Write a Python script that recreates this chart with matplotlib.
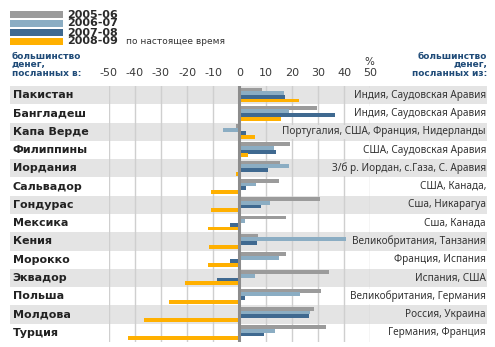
import matplotlib
matplotlib.use("Agg")
import matplotlib.pyplot as plt
from matplotlib.patches import Rectangle

countries = ["Пакистан", "Бангладеш", "Капа Верде", "Филиппины", "Иордания",
             "Сальвадор", "Гондурас", "Мексика", "Кения", "Морокко",
             "Эквадор", "Польша", "Молдова", "Турция"]
sources = ["Индия, Саудовская Аравия", "Индия, Саудовская Аравия",
           "Португалия, США, Франция, Нидерланды", "США, Саудовская Аравия",
           "З/б р. Иордан, с.Газа, С. Аравия", "США, Канада,",
           "Сша, Никарагуа", "Сша, Канада", "Великобритания, Танзания",
           "Франция, Испания", "Испания, США", "Великобритания, Германия",
           "Россия, Украина", "Германия, Франция"]

# % change in remittances per period
v0506 = [8.5, 29.7, -1.5, 19.3, 15.5, 15.1, 30.8, 17.9, 7.0, 17.6, 34.0, 31.0, 28.5, 33.0]
v0607 = [17.0, 19.0, -6.3, 13.2, 19.0, 6.4, 11.7, 2.2, 40.7, 15.1, 6.1, 23.2, 27.0, 13.6]
v0708 = [17.4, 36.6, 2.5, 14.0, 10.8, 2.5, 8.1, -3.6, 6.6, -3.6, -8.7, 2.2, 26.5, 9.5]
v0809 = [22.6, 15.8, 6.1, 3.2, -1.3, -10.8, -11.0, -12.0, -11.5, -12.2, -20.8, -26.8, -36.6, -42.4]

periods = ["2005-06", "2006-07", "2007-08", "2008-09"]
colors = ["#9b9b9b", "#8badc3", "#3f6990", "#ffb000"]
series = [v0506, v0607, v0708, v0809]
ticks = [-50, -40, -30, -20, -10, 0, 10, 20, 30, 40, 50]

band = "#e4e4e4"
navy = "#1f4b78"
bold = dict(family="DejaVu Sans", weight="bold")

fig = plt.figure(figsize=(4.95, 3.47), dpi=100)
ax = fig.add_axes([108.5 / 495, 1 - 342 / 347, 262 / 495, 256 / 347])

n = len(countries)
ax.set_xlim(-50, 50)
ax.set_ylim(n - 0.5, -0.5)

# alternating row bands, wider than the axes
x0 = (10 - 108.5) / 262
x1 = (487 - 108.5) / 262
for i in range(n):
    if i % 2 == 0:
        ax.add_patch(Rectangle((x0, i - 0.5), x1 - x0, 1.0, facecolor=band,
                               edgecolor="none", transform=ax.get_yaxis_transform(),
                               clip_on=False, zorder=0))

offsets = [-0.31, -0.11, 0.09, 0.29]
for vals, off, c in zip(series, offsets, colors):
    ax.barh([i + off for i in range(n)], vals, height=0.21, color=c, zorder=2)

ax.axvline(0, color="#8c8c8c", lw=2.2, zorder=3)

ax.set_axisbelow(True)
ax.grid(axis="x", color="#cfcfcf", lw=1)
ax.set_xticks(ticks)
ax.set_xticklabels([str(t) for t in ticks])
ax.xaxis.tick_top()
ax.tick_params(axis="x", length=0, pad=6, labelsize=8, labelcolor="#3a3a3a")
ax.set_yticks([])
for s in ax.spines.values():
    s.set_visible(False)

for i, (name, src) in enumerate(zip(countries, sources)):
    ax.text(x0 + 0.01, i, name, transform=ax.get_yaxis_transform(),
            ha="left", va="center", fontsize=8, color="#222222", **bold)
    bg = band if i % 2 == 0 else "white"
    ax.text(x1 - 0.004, i, src, transform=ax.get_yaxis_transform(),
            ha="right", va="center", fontsize=7.2, color="#333333",
            family="Noto Sans", zorder=5,
            bbox=dict(boxstyle="square,pad=0.15", facecolor=bg, edgecolor="none"))

# legend
H = 347.0
for k, (p, c) in enumerate(zip(periods, colors)):
    top = 11 + k * 9
    fig.patches.append(Rectangle((10 / 495, 1 - (top + 7) / H), 53 / 495, 7 / H,
                                 facecolor=c, edgecolor="none",
                                 transform=fig.transFigure, figure=fig))
    fig.text(67 / 495, 1 - (top + 3.5) / H, p, ha="left", va="center",
             fontsize=8, color="#2a2a2a", **bold)
fig.text(126 / 495, 1 - 42 / H, "по настоящее время", ha="left", va="center",
         fontsize=6.5, color="#333333", family="DejaVu Sans")

fig.text(12 / 495, 1 - 52 / H, "большинство\nденег,\nпосланных в:", ha="left", va="top",
         fontsize=6.5, color=navy, linespacing=0.9, **bold)
fig.text(487 / 495, 1 - 52 / H, "большинство\nденег,\nпосланных из:", ha="right",
         va="top", fontsize=6.5, color=navy, linespacing=0.9, multialignment="right", **bold)
fig.text(369 / 495, 1 - 62 / H, "%", ha="center", va="center", fontsize=7.5,
         color="#333333")

fig.savefig("out.png", dpi=100)
